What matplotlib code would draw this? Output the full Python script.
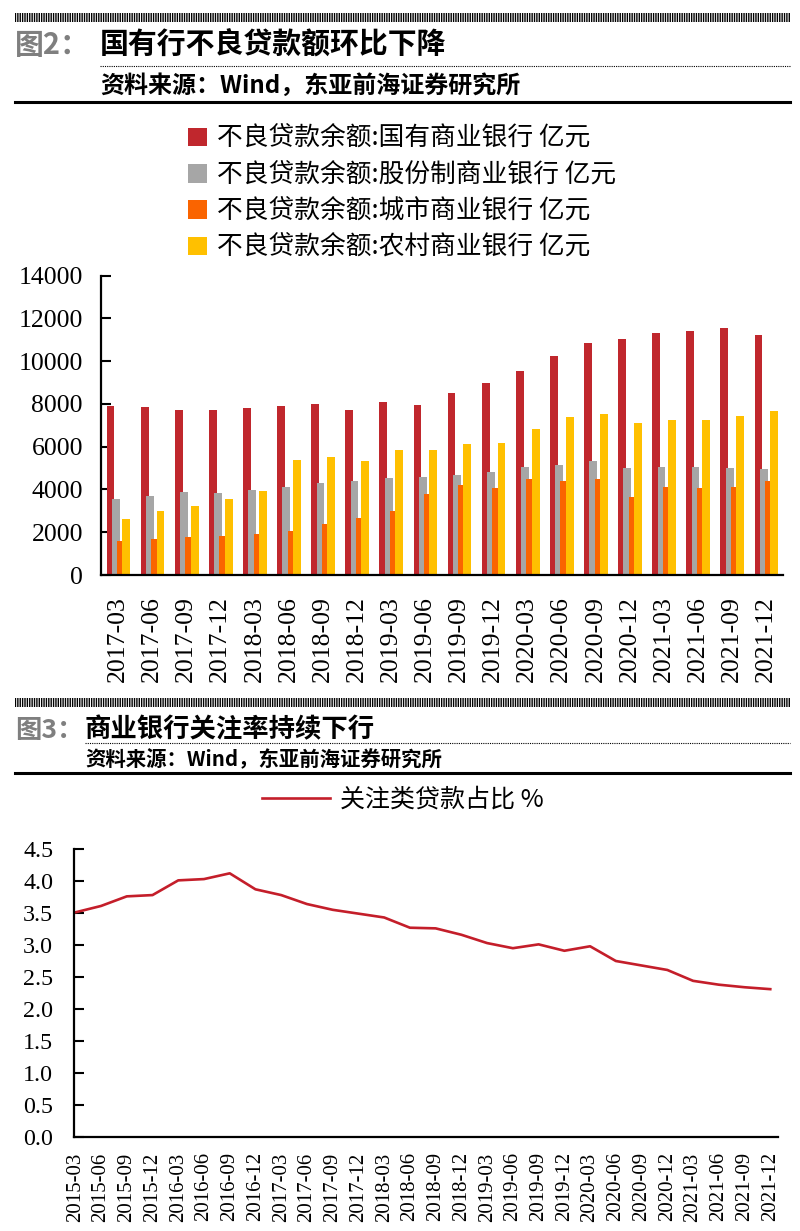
import matplotlib
matplotlib.use("Agg")
import matplotlib.pyplot as plt
import numpy as np
from matplotlib.patches import Rectangle, Patch
from matplotlib.lines import Line2D

# ---- data: figure 2, NPL balance by bank type (亿元)
bar_quarters = ["2017-03", "2017-06", "2017-09", "2017-12", "2018-03", "2018-06", "2018-09",
                "2018-12", "2019-03", "2019-06", "2019-09", "2019-12", "2020-03", "2020-06",
                "2020-09", "2020-12", "2021-03", "2021-06", "2021-09", "2021-12"]
state_owned = [7910, 7850, 7710, 7730, 7820, 7900, 8000, 7740, 8080, 7930,
               8490, 8960, 9560, 10260, 10840, 11060, 11310, 11430, 11540, 11230]
joint_stock = [3570, 3690, 3880, 3830, 3970, 4100, 4300, 4390, 4550, 4580,
               4670, 4810, 5050, 5140, 5310, 5000, 5050, 5050, 5000, 4950]
city_banks = [1590, 1680, 1780, 1810, 1920, 2060, 2380, 2680, 2980, 3770,
              4200, 4070, 4500, 4410, 4500, 3640, 4130, 4070, 4130, 4410]
rural_banks = [2600, 2980, 3220, 3570, 3930, 5370, 5510, 5340, 5830, 5870,
               6140, 6170, 6820, 7380, 7520, 7130, 7230, 7230, 7440, 7660]
bar_labels = ["不良贷款余额:国有商业银行 亿元", "不良贷款余额:股份制商业银行 亿元",
              "不良贷款余额:城市商业银行 亿元", "不良贷款余额:农村商业银行 亿元"]
bar_colors = ["#C0272D", "#A6A6A6", "#FA6400", "#FFC000"]
bar_yticks = [0, 2000, 4000, 6000, 8000, 10000, 12000, 14000]

# ---- data: figure 3, special-mention loan ratio (%)
line_quarters = ["2015-03", "2015-06", "2015-09", "2015-12", "2016-03", "2016-06", "2016-09",
                 "2016-12", "2017-03", "2017-06", "2017-09", "2017-12", "2018-03", "2018-06",
                 "2018-09", "2018-12", "2019-03", "2019-06", "2019-09", "2019-12", "2020-03",
                 "2020-06", "2020-09", "2020-12", "2021-03", "2021-06", "2021-09", "2021-12"]
mention_ratio = [3.51, 3.61, 3.76, 3.78, 4.01, 4.03, 4.12, 3.87, 3.78, 3.64, 3.55, 3.49, 3.43, 3.27,
                 3.26, 3.16, 3.03, 2.95, 3.01, 2.91, 2.98, 2.75, 2.68, 2.61, 2.44, 2.38, 2.34, 2.31]
line_label = "关注类贷款占比 %"
line_yticks = [0.0, 0.5, 1.0, 1.5, 2.0, 2.5, 3.0, 3.5, 4.0, 4.5]

W, H = 800, 1231
CJK = ["Noto Sans CJK SC", "DejaVu Sans"]
NUM = "Liberation Serif"
plt.rcParams["hatch.color"] = "black"
plt.rcParams["hatch.linewidth"] = 1.0


def fx(x):
    return x / W


def fy(y):
    return 1 - y / H


fig = plt.figure(figsize=(W / 100, H / 100), dpi=100)


def header(y_band, num, title, x_title, title_size, source, src_size, y_dot, y_src, y_rule):
    fig.add_artist(Rectangle((fx(15), fy(y_band + 9)), fx(790) - fx(15), 9 / H,
                             transform=fig.transFigure, fill=False, hatch="|" * 7,
                             edgecolor="black", lw=0))
    fig.text(fx(15), fy(y_band + 32), num, family=CJK, weight="bold", color="#7F7F7F",
             fontsize=title_size, va="center", ha="left")
    fig.text(fx(x_title), fy(y_band + 32), title, family=CJK, weight="bold", color="black",
             fontsize=title_size, va="center", ha="left")
    fig.add_artist(Line2D([fx(x_title), fx(790)], [fy(y_dot)] * 2, transform=fig.transFigure,
                          color="black", lw=0.8, linestyle=(0, (1, 1))))
    fig.text(fx(x_title), fy(y_src), source, family=CJK, weight="bold", color="black",
             fontsize=src_size, va="center", ha="left")
    fig.add_artist(Line2D([fx(15), fx(790)], [fy(y_rule)] * 2, transform=fig.transFigure,
                          color="black", lw=2.2))


header(13, "图2：", "国有行不良贷款额环比下降", 100, 20.8,
       "资料来源：Wind，东亚前海证券研究所", 17.3, 65.7, 86, 101.7)
header(698, "图3：", "商业银行关注率持续下行", 85, 19,
       "资料来源：Wind，东亚前海证券研究所", 14.7, 743, 760, 773)

# ---- bar chart
ax1 = fig.add_axes([fx(101), fy(575), fx(783) - fx(101), (575 - 275.7) / H])
x = np.arange(len(bar_quarters))
offsets = [-0.22, -0.065, 0.09, 0.245]
series = [state_owned, joint_stock, city_banks, rural_banks]
handles = []
for vals, off, col, lab in zip(series, offsets, bar_colors, bar_labels):
    ax1.bar(x + off, vals, width=0.23, color=col, zorder=2)
    handles.append(Patch(facecolor=col, label=lab))
ax1.set_xlim(-0.5, len(bar_quarters) - 0.5)
ax1.set_ylim(0, 14000)
ax1.set_yticks(bar_yticks)
ax1.set_yticklabels([str(v) for v in bar_yticks], family=NUM, fontsize=18.5)
ax1.set_xticks(x)
ax1.set_xticklabels(bar_quarters, rotation=90, family=NUM, fontsize=18.5)
ax1.tick_params(axis="y", direction="in", length=7, width=1.5, pad=13)
ax1.tick_params(axis="x", length=0, pad=15)
for s in ["top", "right"]:
    ax1.spines[s].set_visible(False)
for s in ["left", "bottom"]:
    ax1.spines[s].set_linewidth(1.6)

ax1.legend(handles=handles, loc="upper left", bbox_to_anchor=(fx(188), fy(126)),
           bbox_transform=fig.transFigure, frameon=False,
           prop={"family": CJK, "size": 18.5, "weight": "light"},
           handlelength=0.72, handleheight=0.74, handletextpad=0.4, labelspacing=0.4,
           borderpad=0, borderaxespad=0)

# ---- line chart
ax2 = fig.add_axes([fx(74), fy(1137), fx(778) - fx(74), (1137 - 849) / H])
xi = np.arange(len(line_quarters))
ax2.plot(xi, mention_ratio, color="#C41E2A", lw=1.9, solid_joinstyle="round", label=line_label)
ax2.set_xlim(-0.05, len(line_quarters) - 0.7)
ax2.set_ylim(0, 4.5)
ax2.set_yticks(line_yticks)
ax2.set_yticklabels([f"{v:.1f}" for v in line_yticks], family=NUM, fontsize=17.3)
ax2.set_xticks(xi)
ax2.set_xticklabels(line_quarters, rotation=90, family=NUM, fontsize=15)
ax2.tick_params(axis="y", direction="in", length=7, width=1.5, pad=15)
ax2.tick_params(axis="x", length=0, pad=11)
for s in ["top", "right"]:
    ax2.spines[s].set_visible(False)
for s in ["left", "bottom"]:
    ax2.spines[s].set_linewidth(1.6)

ax2.legend(loc="center left", bbox_to_anchor=(fx(262), fy(800)), bbox_transform=fig.transFigure,
           frameon=False, prop={"family": CJK, "size": 18, "weight": "light"},
           handlelength=2.7, handletextpad=0.4, borderpad=0, borderaxespad=0)

fig.savefig("out.png", dpi=100)
